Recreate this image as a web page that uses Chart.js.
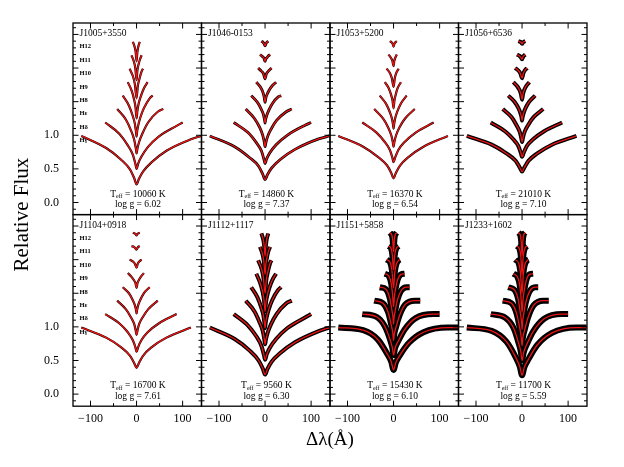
<!DOCTYPE html>
<html>
<head>
<meta charset="utf-8">
<script src="https://cdn.jsdelivr.net/npm/chart.js@4.4.1/dist/chart.umd.min.js"></script>
<style>
    html, body { margin: 0; padding: 0; background: #fff; }
    #div-chart { position: relative; width: 624px; height: 467px; }
</style>
</head>
<body>
<div id="div-chart"><canvas id="canvas-chart" width="624" height="467"></canvas></div>
<script>

// panels, left to right, top row first
var stars = ['J1005+3550', 'J1046-0153', 'J1053+5200', 'J1056+6536',
             'J1104+0918', 'J1112+1117', 'J1151+5858', 'J1233+1602'];
var teff = [10060, 14860, 16370, 21010, 16700, 9560, 15430, 11700];
var logg = ['6.02', '7.37', '6.54', '7.10', '7.61', '6.30', '6.10', '5.59'];

// Balmer lines, bottom to top, and their vertical shift
var lineNames = ['H\u03b3', 'H\u03b4', 'H\u03b5', 'H8', 'H9', 'H10', 'H11', 'H12'];
var lineOffsets = [0, 0.2, 0.4, 0.6, 0.8, 1.0, 1.2, 1.4];

// Δλ (Å) sample points of each line
var dlHg  = [-120, -66, -34, -14, -5, 0, 5, 14, 33, 65, 118, 140];
var dlHd  = [-68, -37, -19, -8, -2.7, 0, 3.5, 10.4, 24, 48, 87, 100];
var dlHe  = [-42, -23, -12, -5, -1.7, 0, 1.8, 5.5, 13, 25, 46, 58];
var dlH8  = [-30, -16.5, -8.4, -3.6, -1.2, 0, 1.1, 3.4, 8, 15.7, 28.5, 35];
var dlH9  = [-19, -10.5, -5.3, -2.3, 0, 1.9, 4.5, 8.8, 16, 24];
var dlH10 = [-15, -7.5, -3.7, 0, 2.7, 5.5, 11, 14];
var dlH11 = [-11, -5.5, -2.7, 0, 1.75, 3.5, 7, 11];
var dlH12 = [-8, -4, -2, 0, 1.8, 3.5, 7];
var dlGrid = [dlHg, dlHd, dlHe, dlH8, dlH9, dlH10, dlH11, dlH12];

// normalized flux of each line (Hγ first)
var fluxJ1005 = [
    [0.99, 0.81, 0.64, 0.49, 0.36, 0.27, 0.35, 0.46, 0.60, 0.77, 0.94, 0.99],
    [0.99, 0.82, 0.65, 0.51, 0.38, 0.30, 0.38, 0.48, 0.62, 0.78, 0.94, 0.99],
    [0.99, 0.83, 0.67, 0.53, 0.41, 0.33, 0.40, 0.50, 0.63, 0.79, 0.95, 0.99],
    [0.99, 0.84, 0.69, 0.57, 0.45, 0.38, 0.45, 0.54, 0.66, 0.80, 0.95, 0.99],
    [0.99, 0.86, 0.73, 0.62, 0.45, 0.57, 0.67, 0.77, 0.90, 0.99],
    [0.99, 0.87, 0.76, 0.55, 0.73, 0.82, 0.95, 0.99],
    [0.99, 0.89, 0.80, 0.62, 0.76, 0.83, 0.92, 0.99],
    [0.99, 0.91, 0.84, 0.70, 0.84, 0.91, 0.99]
];
var fluxJ1046 = [
    [0.99, 0.83, 0.67, 0.54, 0.42, 0.34, 0.41, 0.51, 0.64, 0.79, 0.95, 0.99],
    [0.99, 0.84, 0.69, 0.57, 0.45, 0.38, 0.45, 0.54, 0.66, 0.80, 0.95, 0.99],
    [0.99, 0.85, 0.72, 0.60, 0.50, 0.43, 0.49, 0.58, 0.69, 0.82, 0.95, 0.99],
    [0.99, 0.89, 0.79, 0.71, 0.63, 0.58, 0.63, 0.69, 0.77, 0.87, 0.97, 0.99],
    [0.99, 0.92, 0.85, 0.78, 0.69, 0.76, 0.81, 0.87, 0.94, 0.99],
    [1.00, 0.95, 0.92, 0.84, 0.91, 0.94, 0.98, 1.00],
    [1.00, 0.97, 0.95, 0.90, 0.94, 0.95, 0.98, 1.00],
    [1.00, 0.98, 0.96, 0.93, 0.96, 0.98, 1.00]
];
var fluxJ1053 = [
    [0.99, 0.83, 0.68, 0.55, 0.44, 0.36, 0.44, 0.55, 0.68, 0.83, 0.99, null],
    [0.99, 0.84, 0.70, 0.58, 0.47, 0.40, 0.47, 0.58, 0.70, 0.84, 0.99, null],
    [0.99, 0.85, 0.72, 0.60, 0.50, 0.43, 0.50, 0.60, 0.72, 0.85, 0.99, null],
    [0.99, 0.87, 0.75, 0.65, 0.56, 0.50, 0.56, 0.65, 0.75, 0.87, 0.99, null],
    [0.99, 0.90, 0.80, 0.72, 0.60, 0.72, 0.80, 0.90, 0.99, null],
    [0.99, 0.92, 0.85, 0.72, 0.85, 0.92, 0.99, null],
    [1.00, 0.95, 0.91, 0.83, 0.91, 0.95, 1.00, null],
    [1.00, 0.98, 0.96, 0.92, 0.96, 0.98, 1.00]
];
var fluxJ1056 = [
    [0.99, 0.86, 0.73, 0.62, 0.52, 0.46, 0.52, 0.62, 0.73, 0.86, 0.99, null],
    [0.99, 0.86, 0.74, 0.64, 0.54, 0.48, 0.54, 0.64, 0.74, 0.86, 0.99, null],
    [0.99, 0.87, 0.75, 0.65, 0.56, 0.50, 0.56, 0.65, 0.75, 0.87, 0.99, null],
    [0.99, 0.90, 0.81, 0.73, 0.67, 0.62, 0.67, 0.73, 0.81, 0.90, 0.99, null],
    [0.99, 0.93, 0.87, 0.81, 0.73, 0.81, 0.87, 0.93, 0.99, null],
    [1.00, 0.96, 0.92, 0.85, 0.92, 0.96, 1.00, null],
    [1.00, 0.98, 0.96, 0.93, 0.96, 0.98, 1.00, null],
    [1.00, 0.99, 0.98, 0.96, 0.98, 0.99, 1.00]
];
var fluxJ1104 = [
    [0.99, 0.84, 0.70, 0.57, 0.46, 0.39, 0.46, 0.57, 0.70, 0.84, 0.99, null],
    [0.99, 0.85, 0.72, 0.60, 0.50, 0.43, 0.50, 0.60, 0.72, 0.85, 0.99, null],
    [0.99, 0.86, 0.74, 0.64, 0.54, 0.48, 0.54, 0.64, 0.74, 0.86, 0.99, null],
    [0.99, 0.90, 0.80, 0.72, 0.65, 0.60, 0.65, 0.72, 0.80, 0.90, 0.99, null],
    [1.00, 0.94, 0.89, 0.85, 0.78, 0.85, 0.89, 0.94, 1.00, null],
    [1.00, 0.97, 0.94, 0.88, 0.94, 0.97, 1.00, null],
    [1.00, 0.99, 0.97, 0.95, 0.97, 0.99, 1.00, null],
    [1.00, 0.99, 0.98, 0.96, 0.98, 0.99, 1.00]
];
var fluxJ1112 = [
    [0.99, 0.82, 0.65, 0.50, 0.38, 0.29, 0.37, 0.48, 0.61, 0.77, 0.94, 0.99],
    [0.99, 0.82, 0.66, 0.52, 0.39, 0.31, 0.39, 0.49, 0.62, 0.78, 0.94, 0.99],
    [0.99, 0.83, 0.67, 0.54, 0.42, 0.34, 0.41, 0.51, 0.64, 0.79, 0.95, 0.99],
    [0.99, 0.84, 0.69, 0.57, 0.45, 0.38, 0.45, 0.54, 0.66, 0.80, 0.95, 0.99],
    [0.99, 0.85, 0.72, 0.60, 0.43, 0.56, 0.66, 0.77, 0.90, 0.99],
    [0.99, 0.86, 0.74, 0.50, 0.70, 0.80, 0.95, 0.99],
    [0.99, 0.88, 0.78, 0.58, 0.73, 0.81, 0.92, 0.99],
    [0.99, 0.90, 0.81, 0.65, 0.81, 0.90, 0.99]
];
var fluxJ1151 = [
    [0.99, 0.95, 0.81, 0.60, 0.48, 0.36, 0.47, 0.58, 0.76, 0.92, 0.99, 0.99],
    [0.99, 0.95, 0.81, 0.62, 0.49, 0.38, 0.49, 0.59, 0.76, 0.93, 0.99, 0.99],
    [0.99, 0.95, 0.82, 0.63, 0.51, 0.40, 0.50, 0.60, 0.77, 0.93, 0.99, 0.99],
    [0.99, 0.96, 0.83, 0.65, 0.54, 0.44, 0.54, 0.63, 0.79, 0.93, 0.99, 0.99],
    [0.99, 0.96, 0.85, 0.69, 0.50, 0.65, 0.77, 0.90, 0.98, 0.99],
    [1.00, 0.96, 0.85, 0.58, 0.81, 0.92, 0.99, 1.00],
    [1.00, 0.97, 0.87, 0.65, 0.81, 0.91, 0.98, 1.00],
    [1.00, 0.97, 0.90, 0.72, 0.90, 0.97, 1.00]
];
var fluxJ1233 = [
    [0.99, 0.94, 0.78, 0.55, 0.41, 0.28, 0.40, 0.52, 0.73, 0.91, 0.99, 0.99],
    [0.99, 0.94, 0.79, 0.57, 0.43, 0.30, 0.42, 0.54, 0.73, 0.92, 0.99, 0.99],
    [0.99, 0.95, 0.80, 0.58, 0.44, 0.32, 0.44, 0.55, 0.74, 0.92, 0.99, 0.99],
    [0.99, 0.95, 0.81, 0.60, 0.48, 0.36, 0.47, 0.58, 0.76, 0.92, 0.99, 0.99],
    [0.99, 0.95, 0.83, 0.64, 0.42, 0.59, 0.73, 0.88, 0.98, 0.99],
    [1.00, 0.95, 0.82, 0.50, 0.78, 0.91, 0.99, 1.00],
    [1.00, 0.96, 0.85, 0.58, 0.78, 0.90, 0.98, 1.00],
    [1.00, 0.97, 0.88, 0.66, 0.88, 0.97, 1.00]
];
var panelFlux = [fluxJ1005, fluxJ1046, fluxJ1053, fluxJ1056,
                 fluxJ1104, fluxJ1112, fluxJ1151, fluxJ1233];

// axis ranges and labelled ticks
var dlMin = -138, dlMax = 141;
var fluxMin = -0.18, fluxMax = 2.67;
var dlTicks = [-100, 0, 100];
var fluxTicks = [0, 0.5, 1.0];


//--- styles
var serif = '"Liberation Serif", "DejaVu Serif", serif';
var noiseWidth = [2.2, 2.8, 2.2, 4, 2.2, 4, 6, 6];
var red = 'rgb(236, 20, 20)';


var datasets = [];

stars.forEach(function (star, p) {
    var xId = 'x' + (p % 4);
    var yId = p < 4 ? 'yTop' : 'yBot';

    panelFlux[p].forEach(function (values, k) {
        var points = values.map(function (f, i) {
            return { x: dlGrid[k][i], y: f === null ? null : f + lineOffsets[k] };
        });

        //model fit, on top
        datasets.push({
            label: star + ' ' + lineNames[k] + ' fit',
            data: points,
            xAxisID: xId,
            yAxisID: yId,
            borderColor: red,
            borderWidth: 1.3,
            pointRadius: 0,
            cubicInterpolationMode: 'monotone',
            order: 0,
        });

        //spectrum, drawn as a dark band under the fit
        datasets.push({
            label: star + ' ' + lineNames[k] + ' spectrum',
            data: points.slice(),
            xAxisID: xId,
            yAxisID: yId,
            borderColor: '#000',
            borderWidth: noiseWidth[p],
            pointRadius: 0,
            cubicInterpolationMode: 'monotone',
            order: 1,
        });
    });
});


function dlLabel(v) {
    return v < 0 ? '\u2212' + Math.abs(v) : String(v);
}

function fluxLabel(v) {
    return v.toFixed(1);
}

var scales = {};

[0, 1, 2, 3].forEach(function (c) {
    scales['x' + c] = {
        type: 'linear',
        position: 'bottom',
        stack: 'columns',
        stackWeight: 1,
        bounds: 'data',
        min: dlMin,
        max: dlMax,
        grid: { display: false, drawTicks: false },
        border: { display: false },
        ticks: {
            autoSkip: false,
            maxRotation: 0,
            padding: 5,
            color: '#000',
            font: { family: serif, size: 12 },
            callback: dlLabel,
        },
        afterBuildTicks: function (scale) {
            scale.ticks = dlTicks.map(function (v) { return { value: v }; });
        },
        afterFit: function (scale) {
            scale.height = 22;
        },
    };
});

['yTop', 'yBot'].forEach(function (id, r) {
    scales[id] = {
        type: 'linear',
        position: 'left',
        stack: 'rows',
        stackWeight: 1,
        weight: r == 0 ? 1 : 0,
        bounds: 'data',
        min: fluxMin,
        max: fluxMax,
        grid: { display: false, drawTicks: false },
        border: { display: false },
        ticks: {
            autoSkip: false,
            padding: 14,
            color: '#000',
            font: { family: serif, size: 12 },
            callback: fluxLabel,
        },
        afterBuildTicks: function (scale) {
            scale.ticks = fluxTicks.map(function (v) { return { value: v }; });
        },
        afterFit: function (scale) {
            scale.width = 38.4;
        },
    };
});


//panel frames with inward ticks on all four sides
var frames = {
    id: 'frames',
    afterDatasetsDraw: function (chart) {
        var ctx = chart.ctx;
        ctx.save();
        ctx.strokeStyle = '#000';

        ['yTop', 'yBot'].forEach(function (yId) {
            var ys = chart.scales[yId];

            for (var c = 0; c < 4; c++) {
                var xs = chart.scales['x' + c];

                ctx.lineWidth = 1.3;
                ctx.strokeRect(xs.left, ys.top, xs.right - xs.left, ys.bottom - ys.top);

                ctx.lineWidth = 1;
                ctx.beginPath();

                for (var v = -100; v <= 100; v += 50) {
                    var px = xs.getPixelForValue(v);
                    var len = v % 100 == 0 ? 5.5 : 3;
                    ctx.moveTo(px, ys.bottom);
                    ctx.lineTo(px, ys.bottom - len);
                    ctx.moveTo(px, ys.top);
                    ctx.lineTo(px, ys.top + len);
                }

                for (var i = -1; i <= 26; i++) {
                    var f = i / 10;
                    if (f < fluxMin || f > fluxMax) {
                        continue;
                    }
                    var py = ys.getPixelForValue(f);
                    var ylen = i % 5 == 0 ? 5.5 : 3;
                    ctx.moveTo(xs.left, py);
                    ctx.lineTo(xs.left + ylen, py);
                    ctx.moveTo(xs.right, py);
                    ctx.lineTo(xs.right - ylen, py);
                }
                ctx.stroke();
            }
        });

        ctx.restore();
    },
};


//star names, Teff / log g and the line names of the first column
var notes = {
    id: 'notes',
    afterDraw: function (chart) {
        var ctx = chart.ctx;
        ctx.save();
        ctx.fillStyle = '#000';
        ctx.textBaseline = 'middle';

        stars.forEach(function (star, p) {
            var xs = chart.scales['x' + (p % 4)];
            var ys = chart.scales[p < 4 ? 'yTop' : 'yBot'];

            ctx.textAlign = 'left';
            ctx.font = '9.5px ' + serif;
            ctx.fillText(star, xs.getPixelForValue(-124), ys.getPixelForValue(2.51));

            //T_eff = .... K
            var cx = xs.getPixelForValue(3);
            var y1 = ys.getPixelForValue(0.124);
            var rest = ' = ' + teff[p] + ' K';
            ctx.font = '9.5px ' + serif;
            var wT = ctx.measureText('T').width;
            var wRest = ctx.measureText(rest).width;
            ctx.font = '6px ' + serif;
            var wSub = ctx.measureText('eff').width;
            var x0 = cx - (wT + wSub + wRest) / 2;

            ctx.font = '9.5px ' + serif;
            ctx.fillText('T', x0, y1);
            ctx.font = '6px ' + serif;
            ctx.fillText('eff', x0 + wT, y1 + 2.5);
            ctx.font = '9.5px ' + serif;
            ctx.fillText(rest, x0 + wT + wSub, y1);

            ctx.textAlign = 'center';
            ctx.fillText('log g = ' + logg[p], cx, ys.getPixelForValue(-0.035));

            if (p % 4 == 0) {
                ctx.textAlign = 'left';
                ctx.font = 'bold 6.5px ' + serif;
                lineNames.forEach(function (name, k) {
                    ctx.fillText(name, xs.getPixelForValue(-124), ys.getPixelForValue(lineOffsets[k] + 0.92));
                });
            }
        });

        ctx.restore();
    },
};


var canvas = document.getElementById('canvas-chart');
var chart = new Chart(canvas.getContext('2d'), {
    type: 'line',
    data: { datasets: datasets },
    options: {
        responsive: false,
        animation: false,
        devicePixelRatio: 1,
        spanGaps: false,
        layout: { padding: { left: 9.4, top: 23, right: 37, bottom: 16 } },
        scales: scales,
        plugins: {
            legend: { display: false },
            tooltip: { enabled: false },
            title: {
                display: true,
                text: 'Relative Flux',
                position: 'left',
                fullSize: false,
                padding: { top: 0, bottom: 0 },
                color: '#000',
                font: { family: serif, size: 21, weight: 'normal' },
            },
            subtitle: {
                display: true,
                text: '\u0394\u03bb(\u00c5)',
                position: 'bottom',
                fullSize: false,
                padding: { top: 0, bottom: 0 },
                color: '#000',
                font: { family: serif, size: 19, weight: 'normal' },
            },
        },
    },
    plugins: [frames, notes],
});

</script>
</body>
</html>
